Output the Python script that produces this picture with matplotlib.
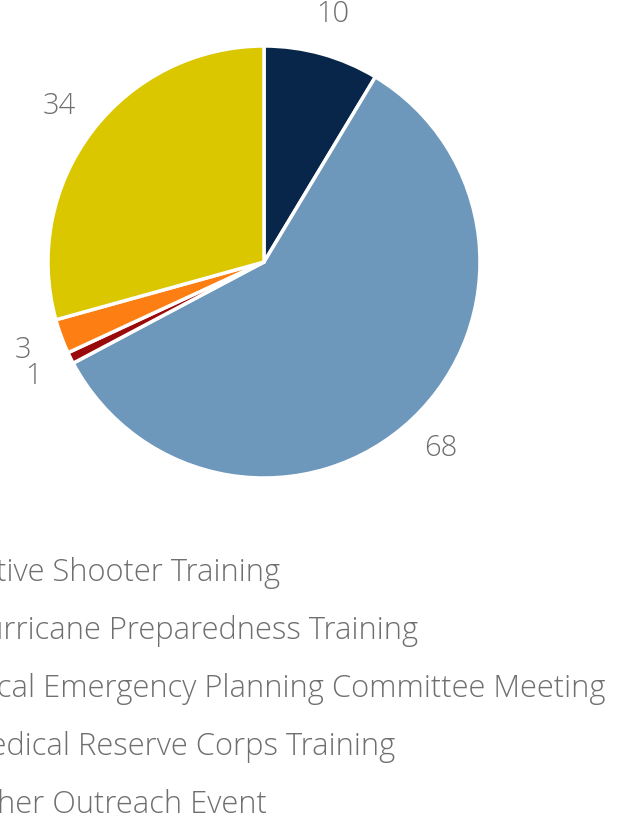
import matplotlib.pyplot as plt

# Data
categories = ['Active Shooter Training', 'Hurricane Preparedness Training',
              'Local Emergency Planning Committee Meeting',
              'Medical Reserve Corps Training', 'Other Outreach Event']
counts = [10, 68, 1, 3, 34]
colors = ['#08254a', '#6e98bb', '#9b0a0a', '#fd7f14', '#dbc700']

W, H = 619, 818
cx, cy, r = 264, 262, 216   # pie centre / radius in pixels

plt.rcParams['font.family'] = ['Open Sans', 'DejaVu Sans']
text_color = '#6f6f6f'

fig = plt.figure(figsize=(W / 100, H / 100), dpi=100)
ax = fig.add_axes([0, 0, 1, 1])

ax.pie(counts, colors=colors, startangle=90, counterclock=False,
       radius=1, center=(0, 0), labels=[str(c) for c in counts],
       labeldistance=1.19,
       wedgeprops=dict(edgecolor='white', linewidth=2.5),
       textprops=dict(color=text_color, fontsize=21, fontweight='light'))
for t in ax.texts:
    t.set_horizontalalignment('center')
    t.set_verticalalignment('center')

ax.set_xlim(-cx / r, (W - cx) / r)
ax.set_ylim(-(H - cy) / r, cy / r)
ax.set_aspect('equal')
ax.axis('off')

# legend (cut off at the left edge like the original)
for i, name in enumerate(categories):
    y = 573 + i * 58
    fig.text(-37 / W, 1 - y / H, name, color=text_color, fontsize=22.2,
             fontweight='light', ha='left', va='center')

fig.savefig('out.png', dpi=100)
